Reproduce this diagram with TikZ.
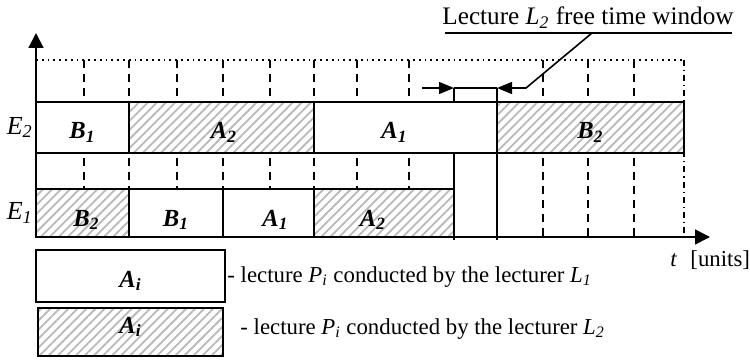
\documentclass[tikz,border=0pt]{standalone}
\usepackage{fontspec}
\setmainfont{Liberation Serif}
\usetikzlibrary{fit, arrows.meta, patterns.meta}

\begin{document}
\begin{tikzpicture}[
    x=0.5pt, y=0.5pt,
    every node/.style={font=\fontsize{11.4}{13}\selectfont},
    slot/.style={
        draw, line width=0.8pt, fill=white, inner sep=0pt
    },
    hatched/.style={
        draw, line width=0.8pt, inner sep=0pt,
        preaction={fill=white},
        pattern={Lines[angle=45, distance=3.2pt, line width=0.9pt]},
        pattern color=gray!55
    },
    boxlabel/.style={font=\fontsize{12.3}{14}\selectfont\bfseries\itshape,
                     yshift=-2.5pt},
    grid/.style={line width=0.8pt, dash pattern=on 4pt off 3pt},
    axis/.style={line width=0.9pt, -{Triangle[length=7.5pt, width=7.5pt]}},
    marker/.style={line width=0.8pt},
    legendtext/.style={anchor=west, inner sep=0pt}
]

% ── FRAME ──────────────────────────────────────────────────────
\useasboundingbox (0,0) rectangle (750,359);

\coordinate (origin) at (36,122);
\coordinate (ytop)   at (36,326);
\coordinate (xend)   at (710,122);

% ── GRID ───────────────────────────────────────────────────────
\draw[line width=0.9pt, dotted] (36,299) -- (684,299);
\foreach \gx in {84, 129, 177, 223, 270, 314, 357, 409, 543, 588, 634}
    \draw[grid] (\gx,299) -- (\gx,119);
\draw[line width=0.6pt, dash dot] (684,299) -- (684,119);

% window limits
\draw[marker] (454,271) -- (454,119);
\draw[marker] (497,271) -- (497,119);

% ── ROW E2 ─────────────────────────────────────────────────────
\node[slot,    fit={(36,206) (129,257)},
      label={[boxlabel]center:B\textsubscript{1}}] (e2b1) {};
\node[hatched, fit={(129,206) (314,257)},
      label={[boxlabel, xshift=1.2pt]center:A\textsubscript{2}}] (e2a2) {};
\node[slot,    fit={(314,206) (497,257)},
      label={[boxlabel, xshift=-5.5pt]center:A\textsubscript{1}}] (e2a1) {};
\node[hatched, fit={(497,206) (684,257)},
      label={[boxlabel]center:B\textsubscript{2}}] (e2b2) {};

\node[anchor=east, inner sep=1pt, font=\fontsize{13}{15}\selectfont]
    (lblE2) at (e2b1.west) {\textit{E}\textsubscript{\textit{2}}};

% ── ROW E1 ─────────────────────────────────────────────────────
\node[hatched, fit={(36,122) (129,170)},
      label={[boxlabel, xshift=2pt, yshift=-1pt]center:B\textsubscript{2}}] (e1b2) {};
\node[slot,    fit={(129,122) (223,170)},
      label={[boxlabel, yshift=-1pt]center:B\textsubscript{1}}] (e1b1) {};
\node[slot,    fit={(223,122) (314,170)},
      label={[boxlabel, xshift=3.5pt, yshift=-1pt]center:A\textsubscript{1}}] (e1a1) {};
\node[hatched, fit={(314,122) (454,170)},
      label={[boxlabel, xshift=-5.5pt, yshift=-1pt]center:A\textsubscript{2}}] (e1a2) {};

\node[anchor=east, inner sep=1pt, font=\fontsize{13}{15}\selectfont]
    (lblE1) at (e1b2.west) {\textit{E}\textsubscript{\textit{1}}};

% ── AXES ───────────────────────────────────────────────────────
\draw[axis] (origin) -- (ytop);
\draw[axis] (origin) -- (xend);
\node[legendtext] (tunit) at (670,99) {\textit{t}\,\, [units]};

% ── FREE TIME WINDOW ───────────────────────────────────────────
\coordinate (wstart) at (422,271);
\coordinate (wleft)  at (454,271);
\coordinate (wright) at (497,271);
\coordinate (wbend)  at (526,271);
\coordinate (lead)   at (592,326);

\draw[marker, -{Triangle[length=7.5pt, width=6pt]}] (wstart) -- (wleft);
\draw[marker] (wleft) -- (wright);
\draw[marker, {Triangle[length=7.5pt, width=6pt]}-] (wright) -- (wbend) -- (lead);

\node[anchor=south, inner sep=2pt, font=\fontsize{12.6}{14}\selectfont]
    (wintext) at (588,326)
    {Lecture \textit{L}\textsubscript{\textit{2}} free time window};
\draw[marker] (445,326) -- (lead) -- (732,326);

% ── LEGEND ─────────────────────────────────────────────────────
\node[slot,    fit={(36,57) (225,109)},
      label={[boxlabel]center:A\textsubscript{i}}] (legL1) {};
\node[hatched, fit={(38,3) (223,51)},
      label={[boxlabel, yshift=5pt]center:A\textsubscript{i}}] (legL2) {};

\node[legendtext] (txtL1) at (227,82)
    {- lecture \textit{P}\textsubscript{\textit{i}} conducted by the lecturer
     \textit{L}\textsubscript{\textit{1}}};
\node[legendtext] (txtL2) at (240,30)
    {- lecture \textit{P}\textsubscript{\textit{i}} conducted by the lecturer
     \textit{L}\textsubscript{\textit{2}}};

\end{tikzpicture}
\end{document}
